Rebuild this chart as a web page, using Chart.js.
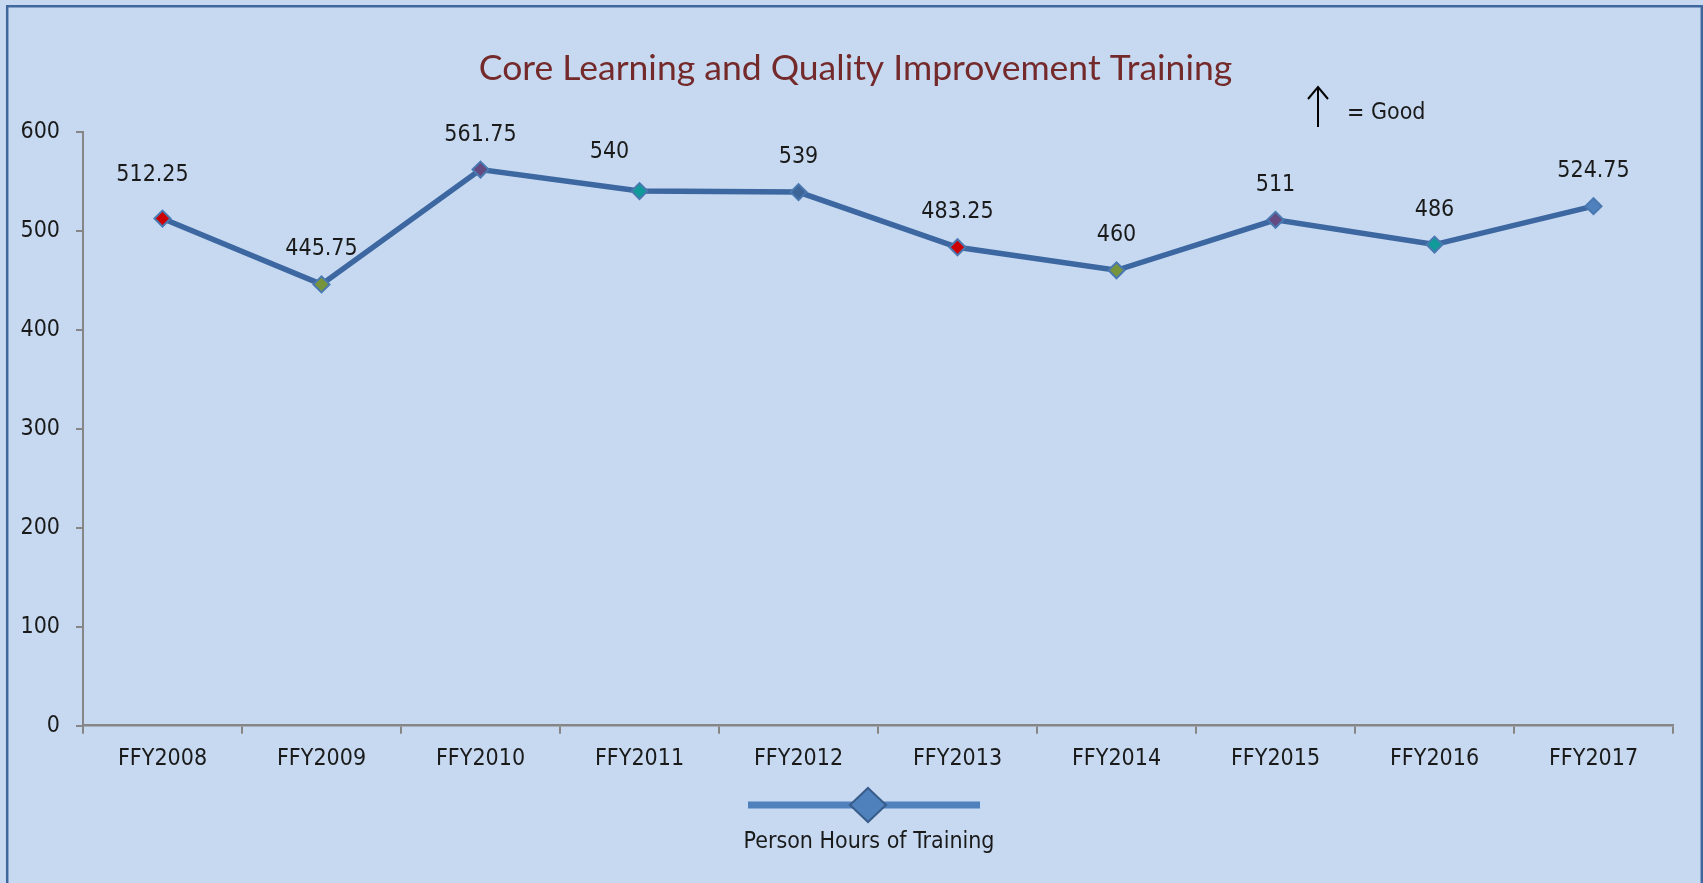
<!DOCTYPE html>
<html>
<head>
<meta charset="utf-8">
<script src="https://cdn.jsdelivr.net/npm/chart.js@4/dist/chart.umd.min.js"></script>
<style>
  html, body { margin: 0; padding: 0; background: #c6d9f1; }
  #wrap { position: relative; width: 1703px; height: 883px; }
  canvas { display: block; }
</style>
</head>
<body>
<div id="wrap"><canvas id="c" width="1703" height="883"></canvas></div>
<script>
// ---- data ----
const categories = ['FFY2008','FFY2009','FFY2010','FFY2011','FFY2012','FFY2013','FFY2014','FFY2015','FFY2016','FFY2017'];
const personHours = [512.25, 445.75, 561.75, 540, 539, 483.25, 460, 511, 486, 524.75];
const seriesName = 'Person Hours of Training';
const chartTitle = 'Core Learning and Quality Improvement Training';
const yTicks = [0, 100, 200, 300, 400, 500, 600];

// ---- styles ----
const markerFill = ['#cc0000','#77933c','#644a80','#119a9a','#3d6598','#cc0000','#77933c','#644a80','#119a9a','#4f81bd'];
const NARROW = '"Liberation Sans Narrow", "DejaVu Sans Condensed", "Liberation Sans", sans-serif';
const TXT = '#1a1a1a';
const labelNudge = { 0: { dx: -10, dy: -9 }, 3: { dx: -30, dy: -4 } };

const decorPlugin = {
  id: 'decor',
  beforeDraw(chart) {
    const ctx = chart.ctx;
    ctx.save();
    ctx.fillStyle = '#c6d9f1';
    ctx.fillRect(0, 0, chart.width, chart.height);
    ctx.strokeStyle = '#41689c';
    ctx.lineWidth = 2.5;
    ctx.beginPath();
    ctx.moveTo(7.2, chart.height + 5);
    ctx.lineTo(7.2, 6.2);
    ctx.lineTo(1701.8, 6.2);
    ctx.lineTo(1701.8, chart.height + 5);
    ctx.stroke();
    ctx.restore();
  },
  afterDraw(chart) {
    const ctx = chart.ctx;
    ctx.save();
    // title
    ctx.fillStyle = '#742a2a';
    ctx.font = '35.5px Lato, "Open Sans", sans-serif';
    ctx.textAlign = 'center';
    ctx.textBaseline = 'middle';
    ctx.fillText(chartTitle, 855.5, 69);

    // "up arrow = Good"
    ctx.strokeStyle = '#000';
    ctx.lineWidth = 2;
    ctx.beginPath();
    ctx.moveTo(1318, 127); ctx.lineTo(1318, 87);
    ctx.moveTo(1308, 99); ctx.lineTo(1318, 87); ctx.lineTo(1328, 99);
    ctx.stroke();
    ctx.fillStyle = TXT;
    ctx.font = '23px ' + NARROW;
    ctx.textAlign = 'left';
    ctx.fillText('=', 1347, 114);
    ctx.fillText('Good', 1371, 113);

    // data labels
    const meta = chart.getDatasetMeta(0);
    ctx.textAlign = 'center';
    ctx.font = '23px ' + NARROW;
    meta.data.forEach((pt, i) => {
      const n = labelNudge[i] || { dx: 0, dy: 0 };
      ctx.fillText(String(personHours[i]), pt.x + n.dx, pt.y - 35 + n.dy);
    });

    // legend
    const ds = chart.data.datasets[0];
    const lx = 868, ly = 805;
    ctx.strokeStyle = '#4f81bd';
    ctx.lineWidth = 7;
    ctx.beginPath();
    ctx.moveTo(748, ly); ctx.lineTo(980, ly);
    ctx.stroke();
    ctx.fillStyle = '#4f81bd';
    ctx.strokeStyle = '#385d8a';
    ctx.lineWidth = 2;
    ctx.beginPath();
    ctx.moveTo(lx, ly - 17); ctx.lineTo(lx + 18, ly); ctx.lineTo(lx, ly + 17); ctx.lineTo(lx - 18, ly); ctx.closePath();
    ctx.fill(); ctx.stroke();
    ctx.fillStyle = TXT;
    ctx.textAlign = 'center';
    ctx.font = '23px ' + NARROW;
    ctx.fillText(ds.label, 869, 842);
    ctx.restore();
  }
};

new Chart(document.getElementById('c'), {
  type: 'line',
  data: {
    labels: categories,
    datasets: [{
      label: seriesName,
      data: personHours,
      borderColor: '#3c67a0',
      borderWidth: 5.5,
      tension: 0,
      pointStyle: 'rectRot',
      pointRadius: 8,
      pointHoverRadius: 8,
      pointBackgroundColor: markerFill,
      pointBorderColor: '#4a78b0',
      pointBorderWidth: 2
    }]
  },
  options: {
    responsive: false,
    animation: false,
    events: [],
    layout: { padding: { left: 0, right: 30, top: 131.7, bottom: 0 } },
    plugins: { legend: { display: false }, title: { display: false }, tooltip: { enabled: false } },
    scales: {
      x: {
        type: 'category',
        offset: true,
        grid: { offset: true, drawOnChartArea: false, drawTicks: true, tickLength: 8, color: '#868686', lineWidth: 2 },
        border: { display: true, color: '#868686', width: 2.5 },
        ticks: { color: TXT, font: { family: NARROW, size: 23 }, padding: 12, maxRotation: 0, autoSkip: false },
        afterFit(s) { s.height = 157.3; }
      },
      y: {
        min: 0, max: 600,
        afterBuildTicks(s) { s.ticks = yTicks.map(v => ({ value: v })); },
        grid: { drawOnChartArea: false, drawTicks: true, tickLength: 7, color: '#868686', lineWidth: 2 },
        border: { display: true, color: '#868686', width: 2 },
        ticks: { color: TXT, font: { family: NARROW, size: 23 }, padding: 16 },
        afterFit(s) { s.width = 83; }
      }
    }
  },
  plugins: [decorPlugin]
});
</script>
</body>
</html>
